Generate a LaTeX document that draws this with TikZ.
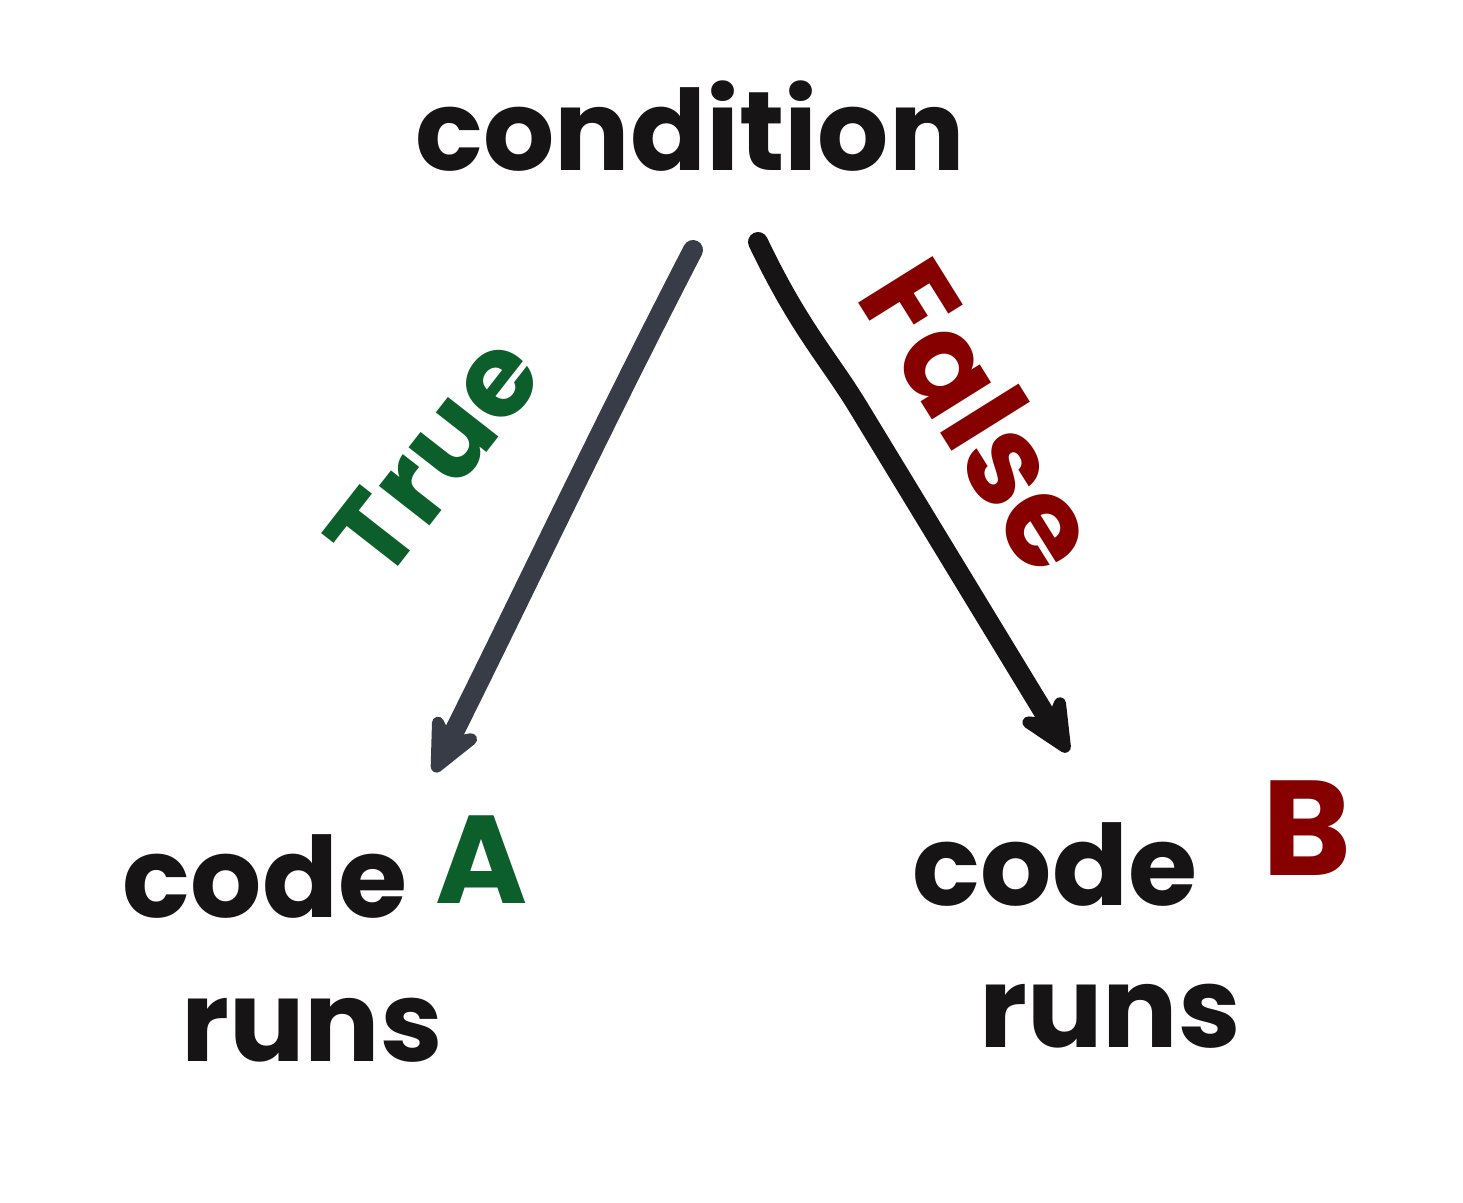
\documentclass[tikz,border=0pt]{standalone}
\usepackage{fontspec}
\setmainfont{Poppins}
\usetikzlibrary{arrows.meta}
\definecolor{ink}{RGB}{22,20,20}
\definecolor{tgreen}{RGB}{12,95,42}
\definecolor{fred}{RGB}{135,0,0}
\definecolor{slate}{RGB}{55,60,70}
\tikzset{
  lbl/.style={inner sep=0pt, text=ink, font=\fontsize{112}{120}\bfseries\selectfont},
  tag/.style={inner sep=0pt, font=\fontsize{115}{125}\bfseries\selectfont},
  branch/.style={line width=20pt, line cap=round, line join=round,
    -{Stealth[length=72pt,width=66pt,inset=24pt,round]}}
}
\begin{document}
\begin{tikzpicture}[x=1pt,y=-1pt]
\useasboundingbox (0,0) rectangle (1463,1202);
\node[lbl] (cond) at (690,126) {condition};
\node[tag, text=tgreen, rotate=52] (truel) at (434,456) {True};
\node[tag, text=fred, rotate=-58, font=\fontsize{125}{130}\bfseries\selectfont] (falsel) at (983,415) {False};
\node[lbl] (codeA) at (265,876) {code};
\node[lbl] (runsA) at (312,1030) {runs};
\node[tag, text=tgreen, font=\fontsize{125}{130}\bfseries\selectfont] (A) at (482,860) {A};
\node[lbl] (codeB) at (1055,864) {code};
\node[lbl] (runsB) at (1110,1016) {runs};
\node[tag, text=fred, font=\fontsize{135}{140}\bfseries\selectfont] (B) at (1307,828) {B};
\coordinate (ls) at (693,250);
\coordinate (le) at (434,772);
\coordinate (rs) at (758,242);
\coordinate (re) at (1068,752);
\draw[branch, draw=slate, fill=slate] (ls) .. controls (600,430) and (520,600) .. (le);
\draw[branch, draw=ink, fill=ink] (rs) .. controls (800,330) and (830,360) .. (860,410) -- (re);
\end{tikzpicture}
\end{document}
